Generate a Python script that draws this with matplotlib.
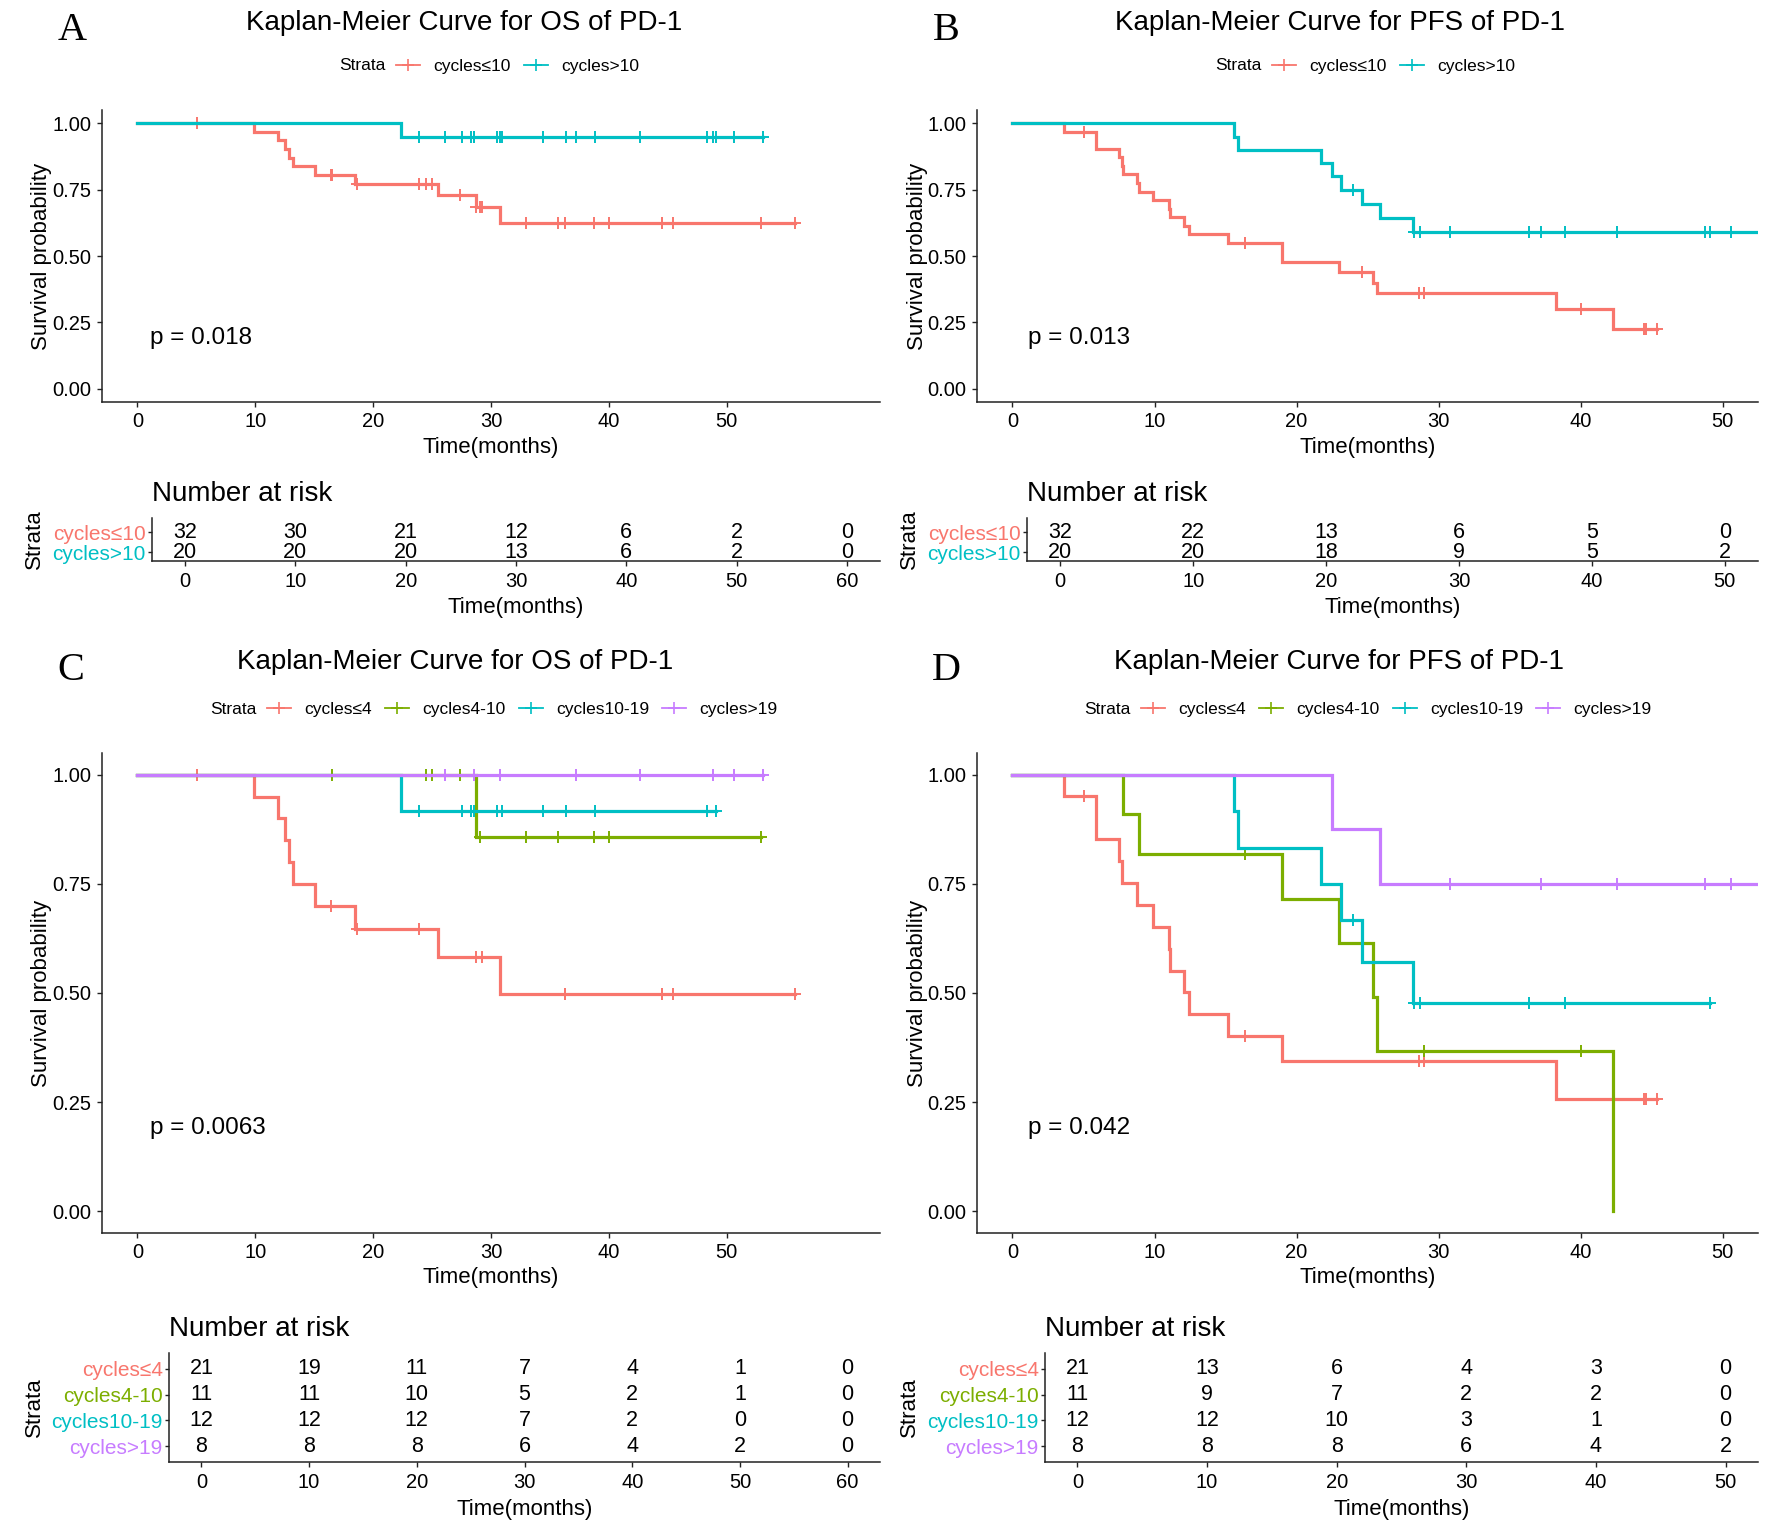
import numpy as np
import matplotlib
matplotlib.use('Agg')
import matplotlib.pyplot as plt
from matplotlib.lines import Line2D

plt.rcParams['font.family'] = ['Liberation Sans', 'DejaVu Sans']

W, H = 1772, 1528
RED, GREEN, CYAN, PURPLE = '#F8766D', '#7CAE00', '#00BFC4', '#C77CFF'

# ---------------- data (months) ----------------
# Overall survival, four cycle groups (panel C)
os_le4_event = [9.9, 11.9, 12.5, 12.9, 13.2, 15.1, 18.5, 25.5, 30.8]
os_le4_cens = [5.1, 16.4, 18.6, 23.9, 28.7, 29.2, 36.3, 36.3, 44.5, 44.5, 45.4, 55.8]
os_4_10_event = [28.7]
os_4_10_cens = [16.5, 24.5, 25.0, 27.4, 29.1, 33.0, 35.7, 38.7, 40.0, 52.9]
os_10_19_event = [22.4]
os_10_19_cens = [23.9, 27.5, 28.3, 28.6, 30.5, 30.9, 34.4, 36.4, 38.8, 48.3, 49.1]
os_gt19_event = []
os_gt19_cens = [26.1, 28.6, 30.8, 37.2, 42.6, 48.8, 50.6, 53.1]

# Progression-free survival, four cycle groups (panel D)
pfs_le4_event = [3.6, 5.9, 5.9, 7.5, 7.7, 8.8, 9.9, 11.0, 11.1, 12.1, 12.4, 15.2, 19.0, 38.3]
pfs_le4_cens = [5.0, 16.4, 28.6, 29.0, 44.5, 44.6, 45.4]
pfs_4_10_event = [7.8, 8.9, 19.0, 23.0, 25.4, 25.7, 42.3]
pfs_4_10_cens = [16.4, 24.6, 29.0, 40.0]
pfs_10_19_event = [15.6, 15.9, 21.7, 23.1, 24.6, 28.2]
pfs_10_19_cens = [24.0, 28.3, 28.7, 36.4, 38.9, 49.1]
pfs_gt19_event = [22.5, 25.9]
pfs_gt19_cens = [30.8, 37.2, 42.6, 48.8, 50.6, 53.1]

# Number-at-risk tables
risk_times_A = [0, 10, 20, 30, 40, 50, 60]
risk_A_le10 = [32, 30, 21, 12, 6, 2, 0]
risk_A_gt10 = [20, 20, 20, 13, 6, 2, 0]
risk_times_B = [0, 10, 20, 30, 40, 50]
risk_B_le10 = [32, 22, 13, 6, 5, 0]
risk_B_gt10 = [20, 20, 18, 9, 5, 2]
risk_times_C = [0, 10, 20, 30, 40, 50, 60]
risk_C_le4 = [21, 19, 11, 7, 4, 1, 0]
risk_C_4_10 = [11, 11, 10, 5, 2, 1, 0]
risk_C_10_19 = [12, 12, 12, 7, 2, 0, 0]
risk_C_gt19 = [8, 8, 8, 6, 4, 2, 0]
risk_times_D = [0, 10, 20, 30, 40, 50]
risk_D_le4 = [21, 13, 6, 4, 3, 0]
risk_D_4_10 = [11, 9, 7, 2, 2, 0]
risk_D_10_19 = [12, 12, 10, 3, 1, 0]
risk_D_gt19 = [8, 8, 8, 6, 4, 2]

labels2 = ['cycles\u226410', 'cycles>10']
labels4 = ['cycles\u22644', 'cycles4-10', 'cycles10-19', 'cycles>19']
p_values = ['p = 0.018', 'p = 0.013', 'p = 0.0063', 'p = 0.042']
titles = ['Kaplan-Meier Curve for OS of PD-1', 'Kaplan-Meier Curve for PFS of PD-1',
          'Kaplan-Meier Curve for OS of PD-1', 'Kaplan-Meier Curve for PFS of PD-1']

# ---------------- helpers ----------------
fig = plt.figure(figsize=(W / 100, H / 100), dpi=100)


def add_ax(x0, y0, x1, y1):
    return fig.add_axes([x0 / W, 1 - y1 / H, (x1 - x0) / W, (y1 - y0) / H])


LW = 2.3
MS = 8
MEW = 1.4


def km_curve(ax, events, cens, color, z):
    ev = np.array(sorted(events), dtype=float)
    ce = np.array(sorted(cens), dtype=float)
    allt = np.concatenate([ev, ce])
    xs, ys, s = [0.0], [1.0], 1.0
    for u in np.unique(ev):
        n = np.sum(allt >= u)
        d = np.sum(ev == u)
        s *= 1 - d / n
        xs.append(u)
        ys.append(s)
    xs_ev = np.array(xs)
    xs.append(allt.max())
    ys.append(s)
    ax.step(xs, ys, where='post', color=color, lw=LW, zorder=z, solid_joinstyle='miter')
    cy = [ys[np.searchsorted(xs_ev, c, side='right') - 1] for c in ce]
    ax.plot(ce, cy, ls='none', marker='+', ms=MS, mew=MEW, color=color, zorder=z)


def style(ax):
    for sp in ['top', 'right']:
        ax.spines[sp].set_visible(False)
    for sp in ['left', 'bottom']:
        ax.spines[sp].set_linewidth(1.1)
        ax.spines[sp].set_color('#222222')
    ax.tick_params(length=3.5, width=1.0, color='#222222', labelsize=14.5, pad=4)
    ax.set_facecolor('none')


def main_panel(rect, xlim, groups, colors, pval):
    ax = add_ax(*rect)
    style(ax)
    for i, (ev, ce) in enumerate(groups):
        km_curve(ax, ev, ce, colors[i], 3 + i)
    ax.set_xlim(*xlim)
    ax.set_ylim(-0.05, 1.05)
    ax.set_xticks([0, 10, 20, 30, 40, 50])
    ax.set_yticks([0, 0.25, 0.5, 0.75, 1.0])
    ax.set_yticklabels(['0.00', '0.25', '0.50', '0.75', '1.00'])
    ax.text(1.1, 0.19, pval, fontsize=17.5, va='center', ha='left')
    x0, y0, x1, y1 = rect
    fig.text(((x0 + x1) / 2) / W, 1 - (y1 + 45) / H, 'Time(months)', ha='center', va='center', fontsize=16)
    fig.text(42 / W if x0 < 500 else (42 + 875) / W, 1 - ((y0 + y1) / 2) / H, 'Survival probability',
             rotation=90, ha='center', va='center', fontsize=16)
    return ax


def risk_panel(rect, xlim, times, rows, labels, colors, nrow):
    ax = add_ax(*rect)
    style(ax)
    ax.tick_params(axis='y', length=3, pad=1.5, labelsize=15)
    ax.tick_params(axis='x', pad=4.5)
    ypos = list(range(nrow - 1, -1, -1))
    for r, yy in zip(rows, ypos):
        for t, v in zip(times, r):
            ax.text(t, yy, str(v), ha='center', va='center', fontsize=15.5)
    ax.set_xlim(*xlim)
    if nrow == 2:
        ax.set_ylim(-0.45, 1.7)
    else:
        ax.set_ylim(-0.62, 3.62)
    ax.set_xticks(times)
    ax.set_yticks(ypos)
    ax.set_yticklabels(labels)
    for tl, c in zip(ax.get_yticklabels(), colors):
        tl.set_color(c)
    x0, y0, x1, y1 = rect
    fig.text(((x0 + x1) / 2) / W, 1 - (y1 + 47) / H, 'Time(months)', ha='center', va='center', fontsize=16)
    fig.text(x0 / W, 1 - (y0 - 24) / H, 'Number at risk', ha='left', va='center', fontsize=20)
    fig.text(34 / W if x0 < 500 else (34 + 875) / W, 1 - ((y0 + y1) / 2) / H, 'Strata',
             rotation=90, ha='center', va='center', fontsize=16)
    return ax


def legend(strata_right, y, labels, colors):
    fig.text(strata_right / W, 1 - y / H, 'Strata', ha='right', va='center', fontsize=12.5)
    handles = [Line2D([], [], color=c, lw=1.3, marker='+', ms=MS + 1, mew=1.2) for c in colors]
    fig.legend(handles, labels, loc='center left', bbox_to_anchor=((strata_right + 10) / W, 1 - y / H),
               ncol=len(labels), frameon=False, fontsize=12.5, handlelength=1.4, handletextpad=0.75,
               columnspacing=0.75, borderpad=0, borderaxespad=0)


# ---------------- panels ----------------
cols2 = [RED, CYAN]
cols4 = [RED, GREEN, CYAN, PURPLE]

A_groups = [(os_le4_event + os_4_10_event, os_le4_cens + os_4_10_cens),
            (os_10_19_event + os_gt19_event, os_10_19_cens + os_gt19_cens)]
B_groups = [(pfs_le4_event + pfs_4_10_event, pfs_le4_cens + pfs_4_10_cens),
            (pfs_10_19_event + pfs_gt19_event, pfs_10_19_cens + pfs_gt19_cens)]
C_groups = [(os_le4_event, os_le4_cens), (os_4_10_event, os_4_10_cens),
            (os_10_19_event, os_10_19_cens), (os_gt19_event, os_gt19_cens)]
D_groups = [(pfs_le4_event, pfs_le4_cens), (pfs_4_10_event, pfs_4_10_cens),
            (pfs_10_19_event, pfs_10_19_cens), (pfs_gt19_event, pfs_gt19_cens)]

main_panel((102, 110, 880, 402), (-3, 63), A_groups, cols2, p_values[0])
main_panel((977, 110, 1758, 402), (-2.5, 52.5), B_groups, cols2, p_values[1])
main_panel((102, 753, 880, 1233), (-3, 63), C_groups, cols4, p_values[2])
main_panel((977, 753, 1758, 1233), (-2.5, 52.5), D_groups, cols4, p_values[3])

risk_panel((152, 518, 880, 561), (-3, 63), risk_times_A, [risk_A_le10, risk_A_gt10], labels2, cols2, 2)
risk_panel((1027, 518, 1758, 561), (-2.5, 52.5), risk_times_B, [risk_B_le10, risk_B_gt10], labels2, cols2, 2)
risk_panel((169, 1353, 880, 1462), (-3, 63), risk_times_C,
           [risk_C_le4, risk_C_4_10, risk_C_10_19, risk_C_gt19], labels4, cols4, 4)
risk_panel((1045, 1353, 1758, 1462), (-2.5, 52.5), risk_times_D,
           [risk_D_le4, risk_D_4_10, risk_D_10_19, risk_D_gt19], labels4, cols4, 4)

# titles, letters, legends
fig.text(464 / W, 1 - 23 / H, titles[0], ha='center', va='center', fontsize=20)
fig.text(1340 / W, 1 - 23 / H, titles[1], ha='center', va='center', fontsize=20)
fig.text(455 / W, 1 - 662 / H, titles[2], ha='center', va='center', fontsize=20)
fig.text(1339 / W, 1 - 662 / H, titles[3], ha='center', va='center', fontsize=20)

for letter, x, y in [('A', 72, 30), ('B', 946, 30), ('C', 71, 670), ('D', 946, 670)]:
    fig.text(x / W, 1 - y / H, letter, ha='center', va='center', fontsize=29,
             family=['Liberation Serif', 'DejaVu Serif'])

legend(386, 66, labels2, cols2)
legend(1262, 66, labels2, cols2)
legend(257, 709, labels4, cols4)
legend(1131, 709, labels4, cols4)

fig.savefig('out.png', dpi=100, facecolor='white')
